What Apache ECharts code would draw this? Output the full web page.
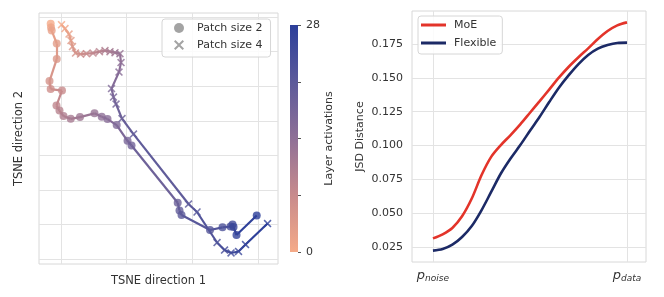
<!DOCTYPE html>
<html><head><meta charset="utf-8">
<script src="https://cdn.jsdelivr.net/npm/echarts@6/dist/echarts.min.js"></script>
<style>html,body{margin:0;padding:0;background:#fff}#c{width:664px;height:297px}</style>
</head><body><div id="c"></div>
<script>
// ---- Left panel: TSNE trajectories (layer 0..28) ----
const layers = [0,1,2,3,4,5,6,7,8,9,10,11,12,13,14,15,16,17,18,19,20,21,22,23,24,25,26,27,28];
const patch2X = [-1.57,-1.52,-1.42,-0.65,-0.65,-1.75,-1.57,0.15,-0.69,-0.23,0.38,1.48,2.89,5.10,6.20,7.08,8.48,10.13,10.74,17.77,18.04,18.35,22.69,24.59,25.81,26.12,26.27,26.72,29.80];
const patch2Y = [68.12,66.97,66.10,62.40,57.85,51.49,49.18,48.74,44.40,42.96,41.37,40.56,41.08,42.15,41.16,40.50,38.76,34.22,32.83,16.29,14.03,12.73,8.39,9.17,9.40,9.98,9.26,6.94,12.58];
const patch4X = [0.08,0.61,1.22,1.52,1.75,2.21,2.97,3.88,4.87,5.86,6.70,7.46,8.22,8.98,9.14,8.83,7.69,7.99,8.38,9.29,11.04,19.42,20.71,23.76,24.90,25.89,27.03,28.10,31.45];
const patch4Y = [67.83,66.68,65.09,63.21,61.47,59.59,59.30,59.44,59.59,60.02,60.31,60.02,59.73,59.44,56.84,54.09,49.32,46.86,44.84,40.64,36.16,15.91,13.60,4.77,2.60,1.74,2.17,4.19,10.27];
const tsneGridX = [0,10,20,30];
const tsneGridY = [0,10,20,30,40,50,60,70];
const colorbarTicks = [0,7,14,21,28];
const colorbarLabels = [0,28];
const seriesNamesLeft = ['Patch size 2','Patch size 4'];

// ---- Right panel: JSD distance ----
const jsdX = [0,0.05,0.1,0.15,0.2,0.25,0.3,0.35,0.4,0.45,0.5,0.55,0.6,0.65,0.7,0.75,0.8,0.85,0.9,0.95,1];
const moe = [0.0314,0.0344,0.0391,0.0477,0.0608,0.0780,0.0916,0.1003,0.1077,0.1156,0.1242,0.1328,0.1415,0.1503,0.1582,0.1652,0.1718,0.1787,0.1846,0.1888,0.1910];
const flexible = [0.0223,0.0235,0.0267,0.0324,0.0405,0.0521,0.0657,0.0793,0.0904,0.1003,0.1109,0.1212,0.1323,0.1429,0.1520,0.1602,0.1669,0.1716,0.1743,0.1758,0.1760];
const jsdYTicks = [0.025,0.05,0.075,0.1,0.125,0.15,0.175];
const jsdXTicks = [0,1];
const jsdXLabels = ['noise','data'];
const seriesNamesRight = ['MoE','Flexible'];

const FONT = 'DejaVu Sans';
const TXT = '#333';
const GRIDC = '#e3e3e3';
const cmap = ['#f5aa88','#c88b8c','#8f7097','#5c5a9a','#2c3f9a'];

function hex2rgb(h){return [parseInt(h.slice(1,3),16),parseInt(h.slice(3,5),16),parseInt(h.slice(5,7),16)];}
function cmapAt(t){
  t=Math.max(0,Math.min(1,t));
  const n=cmap.length-1, f=t*n, i=Math.min(Math.floor(f),n-1), r=f-i;
  const a=hex2rgb(cmap[i]), b=hex2rgb(cmap[i+1]);
  return 'rgb('+a.map((v,k)=>Math.round(v+(b[k]-v)*r)).join(',')+')';
}
function segs(xs,ys){
  const out=[];
  for(let i=0;i<xs.length-1;i++){
    out.push({coords:[[xs[i],ys[i]],[xs[i+1],ys[i+1]]],lineStyle:{color:cmapAt((layers[i]+0.5)/28)}});
  }
  return out;
}
const pts = (xs,ys)=>xs.map((x,i)=>[x,ys[i],layers[i]]);
const XSYM = 'path://M0,1.4L1.4,0L5,3.6L8.6,0L10,1.4L6.4,5L10,8.6L8.6,10L5,6.4L1.4,10L0,8.6L3.6,5Z';

const chart = echarts.init(document.getElementById('c'), null, {renderer:'canvas'});
chart.setOption({
  animation:false,
  textStyle:{fontFamily:FONT,color:TXT},
  grid:[
    {left:39,top:13,width:239,height:251,show:true,borderColor:'#d8d8d8',borderWidth:1,containLabel:false},
    {left:290,top:25,width:8,height:227,containLabel:false},
    {left:412,top:11,width:234,height:251,show:true,borderColor:'#d8d8d8',borderWidth:1,containLabel:false}
  ],
  xAxis:[
    {gridIndex:0,type:'value',min:-3.35,max:33.04,
     name:'TSNE direction 1',nameLocation:'middle',nameGap:11,nameTextStyle:{fontFamily:FONT,fontSize:11.5,color:TXT},
     axisLine:{show:false},axisTick:{show:false,customValues:tsneGridX},axisLabel:{show:false,customValues:tsneGridX},
     splitLine:{show:true,lineStyle:{color:GRIDC,width:1}}},
    {gridIndex:1,type:'category',data:['cb'],show:false},
    {gridIndex:2,type:'value',min:-0.108,max:1.098,
     axisLine:{show:false},axisTick:{show:false,customValues:jsdXTicks},
     axisLabel:{customValues:jsdXTicks,margin:6,
       formatter:(v)=>'{p|p}{s|'+jsdXLabels[jsdXTicks.indexOf(Math.round(v))]+'}',
       rich:{p:{fontFamily:FONT,fontStyle:'italic',fontSize:13,color:TXT},
             s:{fontFamily:FONT,fontStyle:'italic',fontSize:9,color:TXT,padding:[6,0,0,0]}}},
     splitLine:{show:true,lineStyle:{color:GRIDC,width:1}}}
  ],
  yAxis:[
    {gridIndex:0,type:'value',min:-1.45,max:71.2,
     name:'TSNE direction 2',nameLocation:'middle',nameGap:14,nameTextStyle:{fontFamily:FONT,fontSize:11.5,color:TXT},
     axisLine:{show:false},axisTick:{show:false,customValues:tsneGridY},axisLabel:{show:false,customValues:tsneGridY},
     splitLine:{show:true,lineStyle:{color:GRIDC,width:1}}},
    {gridIndex:1,type:'value',min:0,max:28,position:'right',
     name:'Layer activations',nameLocation:'middle',nameRotate:90,nameGap:14,nameTextStyle:{fontFamily:FONT,fontSize:11,color:TXT},
     axisLine:{show:false},
     axisTick:{show:true,length:3,customValues:colorbarTicks,lineStyle:{color:'#555',width:1}},
     axisLabel:{customValues:colorbarLabels,margin:8,fontFamily:FONT,fontSize:11,color:TXT},
     splitLine:{show:false}},
    {gridIndex:2,type:'value',min:0.01392,max:0.1994,
     name:'JSD Distance',nameLocation:'middle',nameGap:46,nameTextStyle:{fontFamily:FONT,fontSize:11,color:TXT},
     axisLine:{show:false},axisTick:{show:false,customValues:jsdYTicks},
     axisLabel:{customValues:jsdYTicks,margin:9,fontFamily:FONT,fontSize:11,color:TXT,formatter:(v)=>v.toFixed(3)},
     splitLine:{show:true,lineStyle:{color:GRIDC,width:1}}}
  ],
  visualMap:{type:'continuous',show:false,dimension:2,min:0,max:28,seriesIndex:[2,3],inRange:{color:cmap}},
  legend:[
    {orient:'vertical',left:162,top:19,padding:[2,8,5,12],itemGap:3,itemWidth:26,itemHeight:10,
     backgroundColor:'rgba(255,255,255,0.85)',borderColor:'#d6d6d6',borderWidth:1,borderRadius:3,
     textStyle:{fontFamily:FONT,fontSize:11,color:TXT,lineHeight:14},
     data:[{name:seriesNamesLeft[0],icon:'circle',itemStyle:{color:'#8c8c8c'}},
           {name:seriesNamesLeft[1],icon:XSYM,itemStyle:{color:'#8c8c8c'}}]},
    {orient:'vertical',left:418,top:16,padding:[2,6,4,3],itemGap:4,itemWidth:25,itemHeight:3,
     backgroundColor:'rgba(255,255,255,0.85)',borderColor:'#d6d6d6',borderWidth:1,borderRadius:3,
     textStyle:{fontFamily:FONT,fontSize:11,color:TXT,lineHeight:14,padding:[0,0,0,3]},
     data:[{name:seriesNamesRight[0],icon:'rect'},{name:seriesNamesRight[1],icon:'rect'}]}
  ],
  series:[
    {type:'lines',name:'seg2',coordinateSystem:'cartesian2d',xAxisIndex:0,yAxisIndex:0,polyline:false,silent:true,
     lineStyle:{width:2.2,opacity:1},data:segs(patch2X,patch2Y),z:2},
    {type:'lines',name:'seg4',coordinateSystem:'cartesian2d',xAxisIndex:0,yAxisIndex:0,polyline:false,silent:true,
     lineStyle:{width:2.2,opacity:1},data:segs(patch4X,patch4Y),z:2},
    {type:'scatter',name:seriesNamesLeft[0],xAxisIndex:0,yAxisIndex:0,symbol:'circle',symbolSize:8,
     data:pts(patch2X,patch2Y),z:3},
    {type:'scatter',name:seriesNamesLeft[1],xAxisIndex:0,yAxisIndex:0,symbol:XSYM,symbolSize:8,
     data:pts(patch4X,patch4Y),z:4},
    {type:'bar',name:'colorbar',xAxisIndex:1,yAxisIndex:1,barWidth:'100%',data:[28],silent:true,
     itemStyle:{color:{type:'linear',x:0,y:1,x2:0,y2:0,
       colorStops:cmap.map((c,i)=>({offset:i/(cmap.length-1),color:c}))}}},
    {type:'line',name:seriesNamesRight[0],xAxisIndex:2,yAxisIndex:2,smooth:0.3,symbol:'none',
     lineStyle:{width:2.6,color:'#e3342a'},itemStyle:{color:'#e3342a'},data:jsdX.map((x,i)=>[x,moe[i]]),z:3},
    {type:'line',name:seriesNamesRight[1],xAxisIndex:2,yAxisIndex:2,smooth:0.3,symbol:'none',
     lineStyle:{width:2.6,color:'#1c2a66'},itemStyle:{color:'#1c2a66'},data:jsdX.map((x,i)=>[x,flexible[i]]),z:3}
  ]
});
</script></body></html>
